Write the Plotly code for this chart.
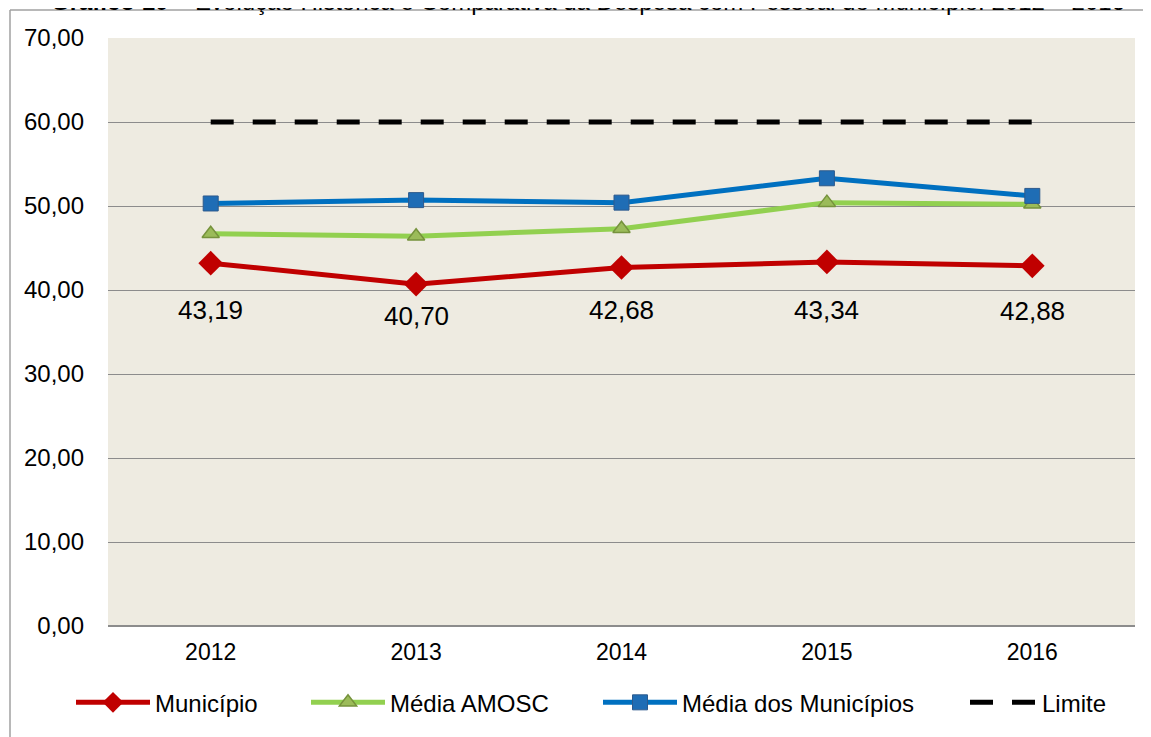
import plotly.graph_objects as go

years = ["2012", "2013", "2014", "2015", "2016"]
municipio = [43.19, 40.70, 42.68, 43.34, 42.88]
media_amosc = [46.7, 46.4, 47.3, 50.4, 50.2]
media_municipios = [50.3, 50.7, 50.4, 53.3, 51.2]
limite = [60, 60, 60, 60, 60]
y_ticks = [0, 10, 20, 30, 40, 50, 60, 70]

label_shift_px = [-47, -32, -43, -48, -45]

FONT = "Arial, Liberation Sans, sans-serif"

# page is shown with an 8px body margin; all pixel targets below are figure pixels
W, H = 1143, 729
L, R, T, B = 100, 16, 30, 109
pw = W - L - R
ph = H - T - B


def px_x(p):
    return (p - L) / pw


def px_y(p):
    return (H - B - p) / ph


fig = go.Figure()
fig.add_trace(go.Scatter(
    x=years, y=municipio, name="Município", mode="lines+markers", legend="legend",
    line=dict(color="#C00000", width=5),
    marker=dict(symbol="diamond", size=19, color="#C00000", line=dict(width=0)),
))
fig.add_trace(go.Scatter(
    x=years, y=media_amosc, name="Média AMOSC", mode="lines+markers", legend="legend2",
    line=dict(color="#92D050", width=5),
    marker=dict(symbol="triangle-up", size=15, color="#9BBB59", line=dict(color="#76923C", width=1.5)),
))
fig.add_trace(go.Scatter(
    x=years, y=media_municipios, name="Média dos Municípios", mode="lines+markers", legend="legend3",
    line=dict(color="#0070C0", width=5),
    marker=dict(symbol="square", size=15, color="#1F6DB5", line=dict(color="#2E5A8C", width=1)),
))
fig.add_trace(go.Scatter(
    x=years, y=limite, name="Limite", mode="lines", legend="legend4",
    line=dict(color="#000000", width=5, dash="23px,19px"),
))

annotations = []
for i, (v, s) in enumerate(zip(municipio, label_shift_px)):
    annotations.append(dict(
        x=i, y=v, xref="x", yref="y", text=f"{v:.2f}".replace(".", ","),
        showarrow=False, yshift=s, font=dict(family=FONT, size=26, color="#000000"),
    ))
annotations.append(dict(
    x=px_x(580), y=px_y(-7), xref="paper", yref="paper", yanchor="middle", xanchor="center",
    text="<b>Gráfico 10</b> – Evolução Histórica e Comparativa da Despesa com Pessoal do Município: 2012 – 2016",
    showarrow=False, font=dict(family=FONT, size=24, color="#000000"),
))

shapes = [
    dict(type="line", xref="paper", yref="paper", x0=px_x(2), x1=px_x(2), y0=px_y(2), y1=px_y(740),
         line=dict(color="#A0A0A0", width=1.5)),
    dict(type="line", xref="paper", yref="paper", x0=px_x(2), x1=px_x(1150), y0=px_y(2), y1=px_y(2),
         line=dict(color="#A0A0A0", width=1.5)),
]

legend_y = px_y(697)
leg_common = dict(orientation="h", yanchor="middle", y=legend_y, xanchor="left",
                  font=dict(family=FONT, size=24, color="#000000"), bgcolor="rgba(0,0,0,0)")

fig.update_layout(
    width=W, height=H,
    margin=dict(l=L, r=R, t=T, b=B),
    paper_bgcolor="#FFFFFF",
    plot_bgcolor="#EEEBE1",
    separators=",.",
    font=dict(family=FONT, size=24, color="#000000"),
    showlegend=True,
    legend=dict(x=px_x(63), itemwidth=74, **leg_common),
    legend2=dict(x=px_x(298), itemwidth=74, **leg_common),
    legend3=dict(x=px_x(590), itemwidth=74, **leg_common),
    legend4=dict(x=px_x(957), itemwidth=67, **leg_common),
    annotations=annotations,
    shapes=shapes,
    xaxis=dict(type="category", range=[-0.5, 4.5], showgrid=False, showline=False, zeroline=False,
               ticks="", tickfont=dict(size=23), ticklabelstandoff=10),
    yaxis=dict(range=[0, 70], tickvals=y_ticks, tickformat=".2f", showgrid=True,
               gridcolor="#8C8C8C", gridwidth=1, zeroline=True, zerolinecolor="#8C8C8C",
               zerolinewidth=1.5, showline=False, ticks="", tickfont=dict(size=24),
               ticklabelstandoff=23),
)

fig.write_html("out.html")
